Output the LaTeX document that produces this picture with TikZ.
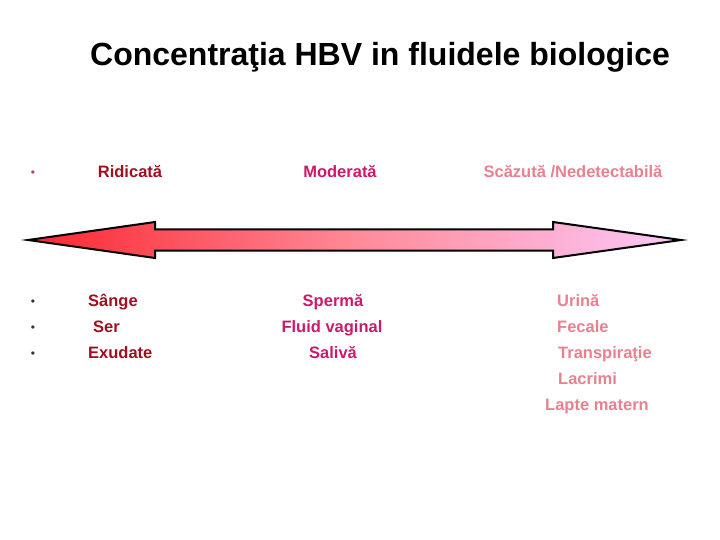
\documentclass[tikz,border=0pt]{standalone}
\usepackage{fontspec}
\setmainfont{Liberation Sans}
\definecolor{hi}{HTML}{9E1020}
\definecolor{mid}{HTML}{D0186A}
\definecolor{low}{HTML}{E8808F}
\definecolor{arrL}{HTML}{FA2630}
\definecolor{arrM}{HTML}{FF8A98}
\definecolor{arrR}{HTML}{FCC8F8}
\begin{document}
\begin{tikzpicture}[x=1pt,y=-1pt,
  txt/.style={font=\bfseries\fontsize{16.5}{18}\selectfont, inner sep=0pt, anchor=base west},
  ctr/.style={font=\bfseries\fontsize{16.5}{18}\selectfont, inner sep=0pt, anchor=base},
  bul/.style={font=\fontsize{12}{14}\selectfont, inner sep=0pt, anchor=base}]
\useasboundingbox (0,0) rectangle (720,540);
% title
\node[font=\bfseries\fontsize{32}{36}\selectfont, inner sep=0pt, anchor=base] (title) at (380,66) {Concentraţia HBV in fluidele biologice};
% headers
\node[bul, text=hi!80] (b0) at (33,177) {•};
\node[ctr, text=hi] (h1) at (130,178) {Ridicată};
\node[ctr, text=mid] (h2) at (340,178) {Moderată};
\node[ctr, text=low] (h3) at (573,178) {Scăzută /Nedetectabilă};
% arrow
\shade[left color=arrL, right color=arrR, middle color=arrM, draw=black, line width=2pt, line join=miter, miter limit=12]
  (28,240) -- (155,222) -- (155,229.5) -- (553,229.5) -- (553,222) -- (681,240)
  -- (553,258) -- (553,250.5) -- (155,250.5) -- (155,258) -- cycle;
% bullets
\node[bul, text=black!80] (b1) at (33,305) {•};
\node[bul, text=black!80] (b2) at (33,331) {•};
\node[bul, text=black!80] (b3) at (33,357) {•};
% left column
\node[txt, text=hi] (l1) at (88,306) {Sânge};
\node[txt, text=hi] (l2) at (93,332) {Ser};
\node[txt, text=hi] (l3) at (88,358) {Exudate};
% middle column
\node[ctr, text=mid] (m1) at (333,306) {Spermă};
\node[ctr, text=mid] (m2) at (332,332) {Fluid vaginal};
\node[ctr, text=mid] (m3) at (333,358) {Salivă};
% right column
\node[txt, text=low] (r1) at (557,306) {Urină};
\node[txt, text=low] (r2) at (557,332) {Fecale};
\node[txt, text=low] (r3) at (558,358) {Transpiraţie};
\node[txt, text=low] (r4) at (558,384) {Lacrimi};
\node[ctr, text=low] (r5) at (597,410) {Lapte matern};
\end{tikzpicture}
\end{document}
